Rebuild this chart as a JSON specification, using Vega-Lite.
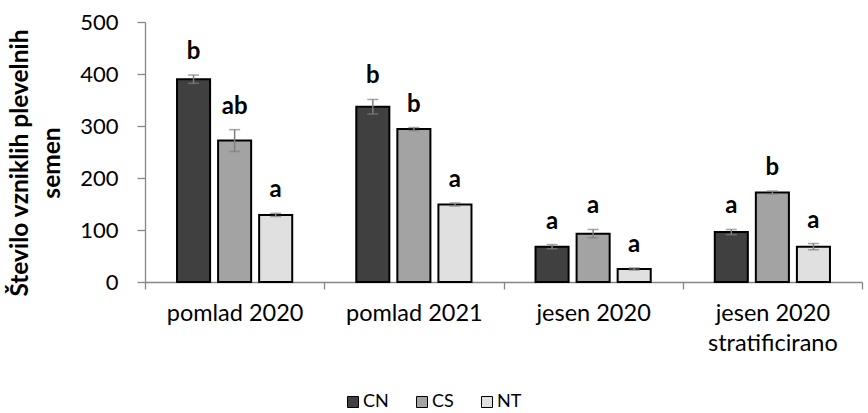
{
  "$schema": "https://vega.github.io/schema/vega-lite/v6.json",
  "width": 717,
  "height": 260,
  "autosize": "none",
  "padding": {"left": 145, "top": 22, "right": 6, "bottom": 131},
  "background": "white",
  "title": {
    "text": ["Število vzniklih plevelnih", "semen"],
    "orient": "left",
    "anchor": "middle",
    "fontSize": 24.5,
    "fontWeight": "bold",
    "lineHeight": 32,
    "color": "black",
    "offset": 14,
    "dx": -11
  },
  "config": {
    "font": "Lato",
    "view": {"stroke": null},
    "axis": {"grid": false, "domainColor": "#868686", "tickColor": "#868686", "domainWidth": 1.3, "tickWidth": 1.3, "labelColor": "black", "titleColor": "black"}
  },
  "data": {
    "values": [
      {"obdobje": "pomlad 2020", "sistem": "CN", "mean": 390, "se": 8, "crka": "b"},
      {"obdobje": "pomlad 2020", "sistem": "CS", "mean": 272, "se": 21, "crka": "ab"},
      {"obdobje": "pomlad 2020", "sistem": "NT", "mean": 129, "se": 3, "crka": "a"},
      {"obdobje": "pomlad 2021", "sistem": "CN", "mean": 337, "se": 14, "crka": "b"},
      {"obdobje": "pomlad 2021", "sistem": "CS", "mean": 294, "se": 3, "crka": "b"},
      {"obdobje": "pomlad 2021", "sistem": "NT", "mean": 149, "se": 3, "crka": "a"},
      {"obdobje": "jesen 2020", "sistem": "CN", "mean": 68, "se": 4, "crka": "a"},
      {"obdobje": "jesen 2020", "sistem": "CS", "mean": 93, "se": 8, "crka": "a"},
      {"obdobje": "jesen 2020", "sistem": "NT", "mean": 25, "se": 2, "crka": "a"},
      {"obdobje": "jesen 2020 stratificirano", "sistem": "CN", "mean": 96, "se": 5, "crka": "a"},
      {"obdobje": "jesen 2020 stratificirano", "sistem": "CS", "mean": 172, "se": 3, "crka": "b"},
      {"obdobje": "jesen 2020 stratificirano", "sistem": "NT", "mean": 68, "se": 6, "crka": "a"}
    ]
  },
  "transform": [{"calculate": "datum.mean + datum.se", "as": "vrh"}],
  "encoding": {
    "x": {
      "field": "obdobje",
      "type": "nominal",
      "sort": ["pomlad 2020", "pomlad 2021", "jesen 2020", "jesen 2020 stratificirano"],
      "scale": {"paddingInner": 0, "paddingOuter": 0},
      "axis": {
        "title": null,
        "labelAngle": 0,
        "tickBand": "extent",
        "tickSize": 7,
        "labelFontSize": 23.5,
        "labelPadding": 12,
        "labelLineHeight": 30,
        "labelLimit": 0,
        "labelExpr": "datum.value == 'jesen 2020 stratificirano' ? ['jesen 2020', 'stratificirano'] : datum.value"
      }
    },
    "xOffset": {
      "field": "sistem",
      "type": "nominal",
      "sort": ["CN", "CS", "NT"],
      "scale": {"paddingInner": 0.195, "paddingOuter": 0.78}
    },
    "y": {
      "field": "mean",
      "type": "quantitative",
      "title": null,
      "scale": {"domain": [0, 500]},
      "axis": {
        "title": null,
        "values": [0, 100, 200, 300, 400, 500],
        "tickSize": 8,
        "labelFontSize": 22,
        "labelPadding": 19
      }
    }
  },
  "layer": [
    {
      "mark": {"type": "bar", "stroke": "black", "strokeWidth": 2},
      "encoding": {
        "fill": {
          "field": "sistem",
          "type": "nominal",
          "scale": {"domain": ["CN", "CS", "NT"], "range": ["#404040", "#a3a3a3", "#e0e0e0"]},
          "legend": {
            "title": null,
            "orient": "none",
            "direction": "horizontal",
            "legendX": 199,
            "legendY": 371,
            "symbolType": "square",
            "symbolSize": 121,
            "symbolStrokeColor": "black",
            "symbolStrokeWidth": 1,
            "labelFontSize": 18,
            "labelColor": "black",
            "labelOffset": 1,
            "columnPadding": 24
          }
        }
      }
    },
    {
      "mark": {
        "type": "errorbar",
        "color": "#7f7f7f",
        "thickness": 1.5,
        "ticks": {"size": 11, "color": "#7f7f7f", "thickness": 1.5}
      },
      "encoding": {
        "yError": {"field": "se"}
      }
    },
    {
      "mark": {"type": "text", "fontWeight": "bold", "fontSize": 24, "baseline": "alphabetic", "dy": -16, "color": "black"},
      "encoding": {
        "y": {"field": "vrh", "type": "quantitative", "title": null},
        "text": {"field": "crka"}
      }
    }
  ]
}
